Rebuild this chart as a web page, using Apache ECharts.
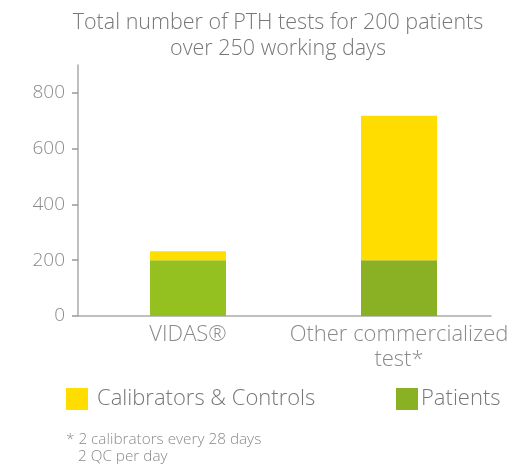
<!DOCTYPE html>
<html><head><meta charset="utf-8">
<script src="https://cdn.jsdelivr.net/npm/echarts@6/dist/echarts.min.js"></script>
<style>html,body{margin:0;padding:0;background:#fff}#c{width:532px;height:470px}</style>
</head><body><div id="c"></div>
<script>
var categories = ['VIDAS®', 'Other commercialized\ntest*'];
var patients = [200, 200];
var calibrators = [32, 518];
var yTicks = [0, 200, 400, 600, 800];
var titleText = 'Total number of PTH tests for 200 patients\nover 250 working days';
var footnote1 = '* 2 calibrators every 28 days';
var footnote2 = '2 QC per day';

var FONT = 'Open Sans';
var GREY = '#8a8a8a';
var yellow = '#FFDD00';
var greenA = '#94C11F';
var greenB = '#8AB023';
var positions = categories.map(function (c, i) { return i; });

var chart = echarts.init(document.getElementById('c'));
chart.setOption({
  animation: false,
  textStyle: { fontFamily: FONT },
  title: {
    text: titleText, left: 273, textAlign: 'center', top: 5,
    textStyle: { fontFamily: FONT, fontWeight: 300, fontSize: 21.5, color: '#777', lineHeight: 26 }
  },
  grid: { left: 78, right: 41, top: 65, bottom: 154 },
  xAxis: {
    type: 'value', min: -0.5213, max: 1.436,
    splitLine: { show: false },
    axisLine: { show: true, onZero: false, lineStyle: { color: '#aaa', width: 1.5 } },
    axisTick: { show: false },
    axisLabel: {
      customValues: positions,
      formatter: function (v) { return categories[Math.round(v)]; },
      color: GREY, fontFamily: FONT, fontWeight: 300, fontSize: 22, lineHeight: 25, margin: 6
    }
  },
  yAxis: {
    type: 'value', min: 0, max: 900,
    splitLine: { show: false },
    axisLine: { show: true, onZero: false, lineStyle: { color: '#aaa', width: 1.5 } },
    axisTick: { show: true, inside: false, length: 6, customValues: yTicks, lineStyle: { color: '#999', width: 1.5 } },
    axisLabel: { customValues: yTicks, color: GREY, fontFamily: FONT, fontWeight: 300, fontSize: 19, margin: 13 }
  },
  legend: [
    { data: ['Calibrators & Controls'], left: 66, top: 388, padding: 0, itemWidth: 22, itemHeight: 22, itemGap: 0,
      icon: 'rect', textStyle: { fontFamily: FONT, fontWeight: 300, fontSize: 22, color: '#777', padding: [0, 0, 0, 4] } },
    { data: ['Patients'], left: 396, top: 388, padding: 0, itemWidth: 22, itemHeight: 22, itemGap: 0,
      icon: 'rect', textStyle: { fontFamily: FONT, fontWeight: 300, fontSize: 22, color: '#777', padding: [0, 0, 0, -2] } }
  ],
  graphic: [
    { type: 'text', left: 66, top: 432, style: { text: footnote1, font: '300 15.3px "Open Sans"', fill: GREY } },
    { type: 'text', left: 78, top: 449, style: { text: footnote2, font: '300 15.3px "Open Sans"', fill: GREY } }
  ],
  series: [
    { name: 'Patients', type: 'bar', stack: 's', barWidth: 76, itemStyle: { color: greenB },
      encode: { x: 1, y: 0 },
      data: patients.map(function (v, i) { return { value: [v, positions[i]], itemStyle: { color: i === 0 ? greenA : greenB } }; }) },
    { name: 'Calibrators & Controls', type: 'bar', stack: 's', barWidth: 76, itemStyle: { color: yellow },
      encode: { x: 1, y: 0 },
      data: calibrators.map(function (v, i) { return [v, positions[i]]; }) }
  ]
});
</script></body></html>
